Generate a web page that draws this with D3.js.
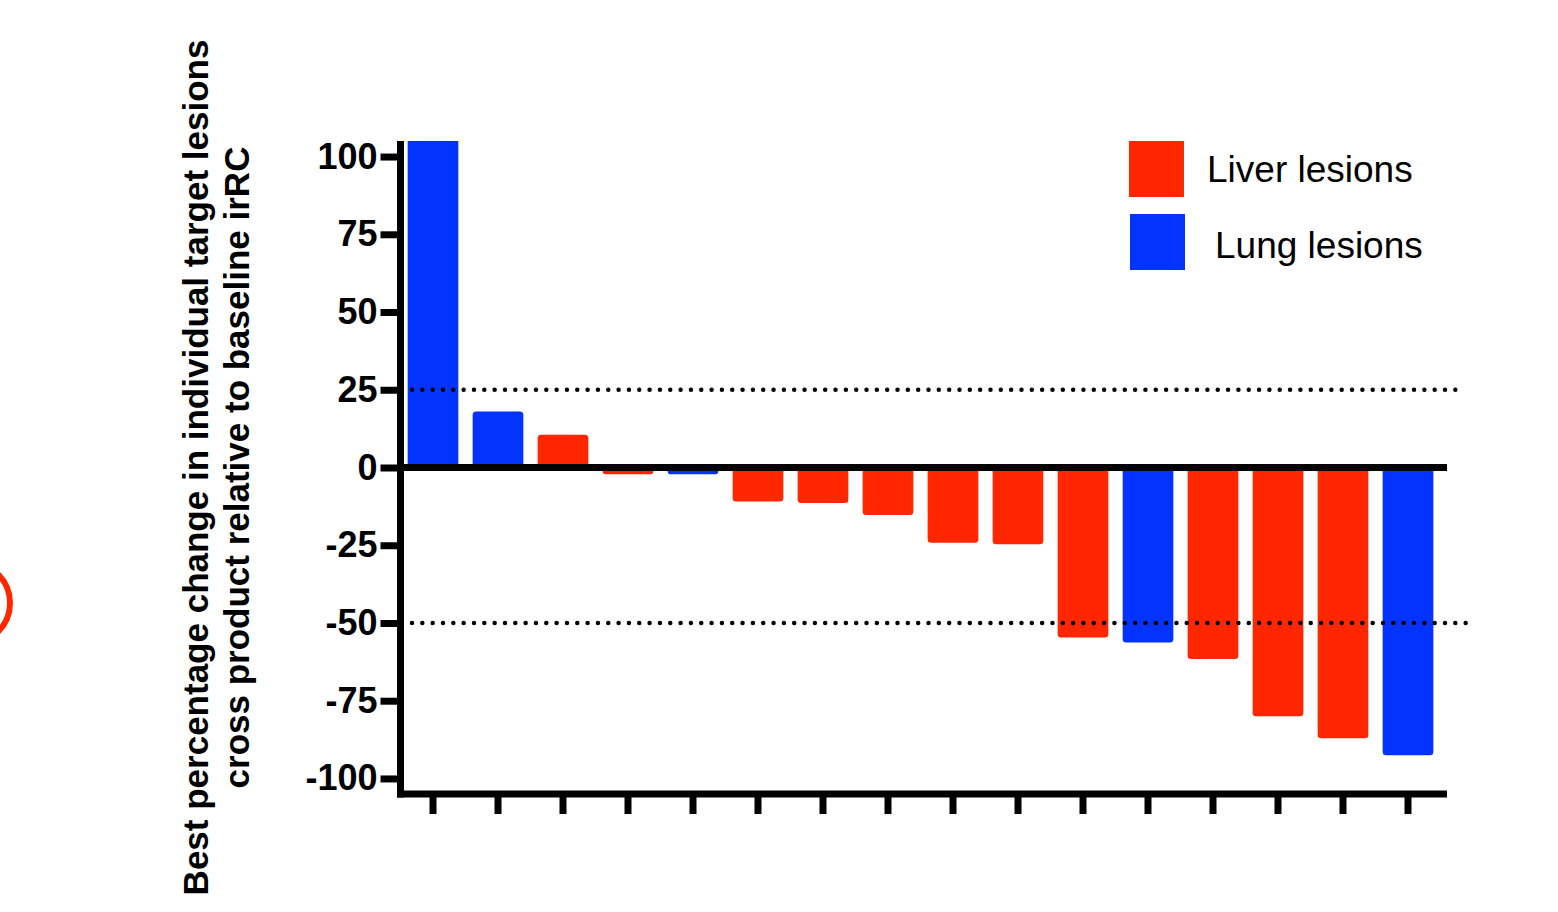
<!DOCTYPE html>
<html>
<head>
<meta charset="utf-8">
<script src="https://cdn.jsdelivr.net/npm/d3@7"></script>
<style>
  html, body { margin: 0; padding: 0; background: #ffffff; }
  svg { display: block; font-family: "Liberation Sans", Arial, Helvetica, sans-serif; }
</style>
</head>
<body>
<svg id="chart" width="1558" height="912"></svg>
<script>
// Individual target lesions, ordered as in the waterfall
const lesions = ["1", "2", "3", "4", "5", "6", "7", "8", "9", "10", "11", "12", "13", "14", "15", "16"];
// Best percentage change from baseline (first lesion runs off the top of the axis)
const bestChange = [108, 18, 10.5, -2.2, -2.2, -10.9, -11.4, -15.3, -24.2, -24.7, -54.7, -56.3, -61.6, -80.0, -87.1, -92.5];
// Organ site of each lesion
const sites = ["Lung", "Lung", "Liver", "Liver", "Lung", "Liver", "Liver", "Liver", "Liver", "Liver", "Liver", "Lung", "Liver", "Liver", "Liver", "Lung"];
// Axis ticks and response thresholds
const yTicks = [100, 75, 50, 25, 0, -25, -50, -75, -100];
const thresholds = [25, -50];
const legendSites = ["Liver", "Lung"];
const legendLabels = ["Liver lesions", "Lung lesions"];

const RED = "#ff2600";
const BLUE = "#0433ff";
const color = d3.scaleOrdinal().domain(["Liver", "Lung"]).range([RED, BLUE]);

const svg = d3.select("#chart");
svg.append("rect").attr("width", 1558).attr("height", 912).attr("fill", "#fff");

const x = d3.scaleBand()
  .domain(lesions)
  .range([400.5, 1440.5])
  .paddingInner(0.22)
  .paddingOuter(0.11);

const y = d3.scaleLinear().domain([-105, 105]).range([794, 141]);

const axisLeftX = 400.5;
const axisRightX = 1447;
const LW = 7;

// clip bars to the plotting area
svg.append("defs").append("clipPath").attr("id", "plotClip")
  .append("rect")
  .attr("x", axisLeftX).attr("y", y(105))
  .attr("width", axisRightX - axisLeftX).attr("height", y(-105) - y(105));

// bar with rounded corners on its free end
function barPath(x0, w, yBase, yEnd, r) {
  const s = Math.sign(yEnd - yBase) || 1;
  r = Math.min(r, Math.abs(yEnd - yBase) / 2, w / 2);
  return `M${x0},${yBase}V${yEnd - s * r}Q${x0},${yEnd} ${x0 + r},${yEnd}` +
         `H${x0 + w - r}Q${x0 + w},${yEnd} ${x0 + w},${yEnd - s * r}V${yBase}Z`;
}

const rows = lesions.map((id, i) => ({ id, value: bestChange[i], site: sites[i] }));

svg.append("g").attr("clip-path", "url(#plotClip)")
  .selectAll("path")
  .data(rows)
  .join("path")
  .attr("d", d => barPath(x(d.id), x.bandwidth(), y(0), y(d.value), 3.5))
  .attr("fill", d => color(d.site));

// dotted response thresholds
const thresholdEnds = { 25: 1457, "-50": 1467 };
svg.append("g").selectAll("line")
  .data(thresholds)
  .join("line")
  .attr("x1", 412)
  .attr("x2", d => thresholdEnds[d])
  .attr("y1", d => y(d)).attr("y2", d => y(d))
  .attr("stroke", "#000")
  .attr("stroke-width", 4.5)
  .attr("stroke-linecap", "round")
  .attr("stroke-dasharray", "0 10.33");

// zero line
svg.append("line")
  .attr("x1", axisLeftX).attr("x2", axisRightX)
  .attr("y1", y(0)).attr("y2", y(0))
  .attr("stroke", "#000").attr("stroke-width", LW);

// y axis
const yAxis = svg.append("g")
  .attr("transform", `translate(${axisLeftX},0)`)
  .call(d3.axisLeft(y).tickValues(yTicks).tickSize(20).tickSizeOuter(0).tickPadding(3)
    .tickFormat(d => String(d)));
yAxis.select(".domain").remove();
yAxis.selectAll(".tick line").attr("stroke", "#000").attr("stroke-width", LW);
yAxis.selectAll(".tick text")
  .attr("fill", "#000")
  .attr("font-family", "'Liberation Sans', Arial, Helvetica, sans-serif")
  .attr("font-size", 36)
  .attr("font-weight", "bold");

svg.append("line")
  .attr("x1", axisLeftX).attr("x2", axisLeftX)
  .attr("y1", y(105)).attr("y2", y(-105) + LW / 2)
  .attr("stroke", "#000").attr("stroke-width", LW);

// x axis (unlabelled ticks)
const xAxis = svg.append("g")
  .attr("transform", `translate(0,${y(-105)})`)
  .call(d3.axisBottom(x).tickSize(20).tickSizeOuter(0).tickFormat(""));
xAxis.select(".domain").remove();
xAxis.selectAll(".tick line").attr("stroke", "#000").attr("stroke-width", LW);

svg.append("line")
  .attr("x1", axisLeftX - LW / 2).attr("x2", axisRightX)
  .attr("y1", y(-105)).attr("y2", y(-105))
  .attr("stroke", "#000").attr("stroke-width", LW);

// y axis title
const title = svg.append("text")
  .attr("transform", `translate(208,${(y(105) + y(-105)) / 2}) rotate(-90)`)
  .attr("text-anchor", "middle")
  .attr("font-size", 35)
  .attr("font-weight", "bold")
  .attr("fill", "#000");
title.append("tspan").attr("x", 0).attr("y", 0)
  .text("Best percentage change in individual target lesions");
title.append("tspan").attr("x", 0).attr("y", 41)
  .text("cross product relative to baseline irRC");

// legend
const legendPos = [
  { sx: 1129, sy: 141, tx: 1207, ty: 182 },
  { sx: 1130, sy: 214, tx: 1215, ty: 258 }
];
const legend = svg.append("g").selectAll("g")
  .data(legendSites)
  .join("g");
legend.append("rect")
  .attr("x", (d, i) => legendPos[i].sx)
  .attr("y", (d, i) => legendPos[i].sy)
  .attr("width", 55).attr("height", 56)
  .attr("fill", d => color(d));
legend.append("text")
  .attr("x", (d, i) => legendPos[i].tx)
  .attr("y", (d, i) => legendPos[i].ty)
  .attr("font-size", 37)
  .attr("fill", "#000")
  .text((d, i) => legendLabels[i]);

// partial annotation ring at the left edge
svg.append("circle")
  .attr("cx", -30.5).attr("cy", 603).attr("r", 40.5)
  .attr("fill", "none")
  .attr("stroke", RED)
  .attr("stroke-width", 6);
</script>
</body>
</html>
